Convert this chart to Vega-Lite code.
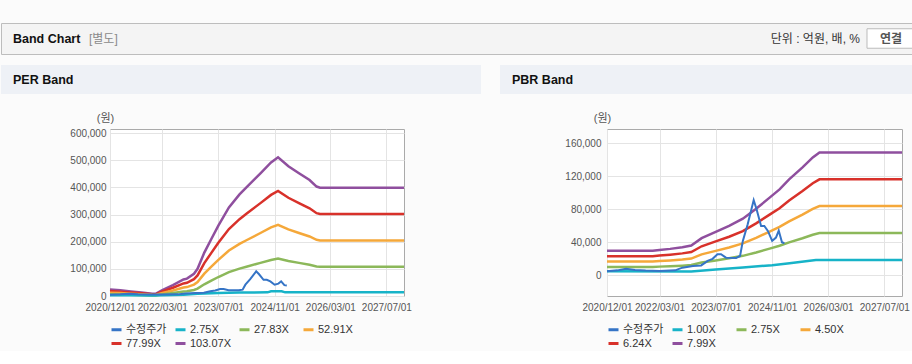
{
  "$schema": "https://vega.github.io/schema/vega-lite/v6.json",
  "background": "#fbfbfb",
  "padding": {"left": 0, "top": 22, "right": 0, "bottom": 0},
  "config": {
    "font": "Liberation Sans, Noto Sans CJK KR",
    "axis": {"labelFont": "Liberation Sans, Noto Sans CJK KR", "labelFontSize": 10, "labelColor": "#555555", "domain": false, "ticks": false, "gridColor": "#e4e4e4", "gridWidth": 1},
    "legend": {"labelFont": "Liberation Sans, Noto Sans CJK KR"}
  },
  "datasets": {
    "per": [
      {"s": "103.07X", "d": "2020-12-01", "v": 24000},
      {"s": "103.07X", "d": "2021-03-01", "v": 21000},
      {"s": "103.07X", "d": "2021-06-01", "v": 17000},
      {"s": "103.07X", "d": "2021-09-01", "v": 13000},
      {"s": "103.07X", "d": "2021-12-01", "v": 8500},
      {"s": "103.07X", "d": "2022-01-01", "v": 8000},
      {"s": "103.07X", "d": "2022-03-01", "v": 22000},
      {"s": "103.07X", "d": "2022-06-01", "v": 40000},
      {"s": "103.07X", "d": "2022-09-01", "v": 61000},
      {"s": "103.07X", "d": "2022-10-01", "v": 64000},
      {"s": "103.07X", "d": "2022-12-01", "v": 82000},
      {"s": "103.07X", "d": "2023-01-01", "v": 100000},
      {"s": "103.07X", "d": "2023-03-01", "v": 160000},
      {"s": "103.07X", "d": "2023-05-01", "v": 210000},
      {"s": "103.07X", "d": "2023-07-01", "v": 259000},
      {"s": "103.07X", "d": "2023-10-01", "v": 326000},
      {"s": "103.07X", "d": "2024-01-01", "v": 374000},
      {"s": "103.07X", "d": "2024-03-01", "v": 400000},
      {"s": "103.07X", "d": "2024-07-01", "v": 452000},
      {"s": "103.07X", "d": "2024-10-01", "v": 492000},
      {"s": "103.07X", "d": "2024-12-01", "v": 511000},
      {"s": "103.07X", "d": "2025-03-01", "v": 478000},
      {"s": "103.07X", "d": "2025-06-01", "v": 452000},
      {"s": "103.07X", "d": "2025-09-01", "v": 427000},
      {"s": "103.07X", "d": "2025-11-01", "v": 403000},
      {"s": "103.07X", "d": "2025-12-01", "v": 399000},
      {"s": "103.07X", "d": "2027-12-01", "v": 399000},
      {"s": "77.99X", "d": "2020-12-01", "v": 18160},
      {"s": "77.99X", "d": "2021-03-01", "v": 15890},
      {"s": "77.99X", "d": "2021-06-01", "v": 12863},
      {"s": "77.99X", "d": "2021-09-01", "v": 9837},
      {"s": "77.99X", "d": "2021-12-01", "v": 6432},
      {"s": "77.99X", "d": "2022-01-01", "v": 6053},
      {"s": "77.99X", "d": "2022-03-01", "v": 16647},
      {"s": "77.99X", "d": "2022-06-01", "v": 30267},
      {"s": "77.99X", "d": "2022-09-01", "v": 46157},
      {"s": "77.99X", "d": "2022-10-01", "v": 48427},
      {"s": "77.99X", "d": "2022-12-01", "v": 62047},
      {"s": "77.99X", "d": "2023-01-01", "v": 75667},
      {"s": "77.99X", "d": "2023-03-01", "v": 121067},
      {"s": "77.99X", "d": "2023-05-01", "v": 158901},
      {"s": "77.99X", "d": "2023-07-01", "v": 195978},
      {"s": "77.99X", "d": "2023-10-01", "v": 246674},
      {"s": "77.99X", "d": "2024-01-01", "v": 282995},
      {"s": "77.99X", "d": "2024-03-01", "v": 302668},
      {"s": "77.99X", "d": "2024-07-01", "v": 342015},
      {"s": "77.99X", "d": "2024-10-01", "v": 372282},
      {"s": "77.99X", "d": "2024-12-01", "v": 386658},
      {"s": "77.99X", "d": "2025-03-01", "v": 361688},
      {"s": "77.99X", "d": "2025-06-01", "v": 342015},
      {"s": "77.99X", "d": "2025-09-01", "v": 323098},
      {"s": "77.99X", "d": "2025-11-01", "v": 304938},
      {"s": "77.99X", "d": "2025-12-01", "v": 301911},
      {"s": "77.99X", "d": "2027-12-01", "v": 301911},
      {"s": "52.91X", "d": "2020-12-01", "v": 12320},
      {"s": "52.91X", "d": "2021-03-01", "v": 10780},
      {"s": "52.91X", "d": "2021-06-01", "v": 8727},
      {"s": "52.91X", "d": "2021-09-01", "v": 6673},
      {"s": "52.91X", "d": "2021-12-01", "v": 4363},
      {"s": "52.91X", "d": "2022-01-01", "v": 4107},
      {"s": "52.91X", "d": "2022-03-01", "v": 11293},
      {"s": "52.91X", "d": "2022-06-01", "v": 20534},
      {"s": "52.91X", "d": "2022-09-01", "v": 31314},
      {"s": "52.91X", "d": "2022-10-01", "v": 32854},
      {"s": "52.91X", "d": "2022-12-01", "v": 42094},
      {"s": "52.91X", "d": "2023-01-01", "v": 51334},
      {"s": "52.91X", "d": "2023-03-01", "v": 82134},
      {"s": "52.91X", "d": "2023-05-01", "v": 107801},
      {"s": "52.91X", "d": "2023-07-01", "v": 132955},
      {"s": "52.91X", "d": "2023-10-01", "v": 167349},
      {"s": "52.91X", "d": "2024-01-01", "v": 191989},
      {"s": "52.91X", "d": "2024-03-01", "v": 205336},
      {"s": "52.91X", "d": "2024-07-01", "v": 232030},
      {"s": "52.91X", "d": "2024-10-01", "v": 252563},
      {"s": "52.91X", "d": "2024-12-01", "v": 262317},
      {"s": "52.91X", "d": "2025-03-01", "v": 245377},
      {"s": "52.91X", "d": "2025-06-01", "v": 232030},
      {"s": "52.91X", "d": "2025-09-01", "v": 219196},
      {"s": "52.91X", "d": "2025-11-01", "v": 206876},
      {"s": "52.91X", "d": "2025-12-01", "v": 204823},
      {"s": "52.91X", "d": "2027-12-01", "v": 204823},
      {"s": "27.83X", "d": "2020-12-01", "v": 6480},
      {"s": "27.83X", "d": "2021-03-01", "v": 5670},
      {"s": "27.83X", "d": "2021-06-01", "v": 4590},
      {"s": "27.83X", "d": "2021-09-01", "v": 3510},
      {"s": "27.83X", "d": "2021-12-01", "v": 2295},
      {"s": "27.83X", "d": "2022-01-01", "v": 2160},
      {"s": "27.83X", "d": "2022-03-01", "v": 5940},
      {"s": "27.83X", "d": "2022-06-01", "v": 10800},
      {"s": "27.83X", "d": "2022-09-01", "v": 16471},
      {"s": "27.83X", "d": "2022-10-01", "v": 17281},
      {"s": "27.83X", "d": "2022-12-01", "v": 22141},
      {"s": "27.83X", "d": "2023-01-01", "v": 27001},
      {"s": "27.83X", "d": "2023-03-01", "v": 43202},
      {"s": "27.83X", "d": "2023-05-01", "v": 56702},
      {"s": "27.83X", "d": "2023-07-01", "v": 69933},
      {"s": "27.83X", "d": "2023-10-01", "v": 88023},
      {"s": "27.83X", "d": "2024-01-01", "v": 100984},
      {"s": "27.83X", "d": "2024-03-01", "v": 108004},
      {"s": "27.83X", "d": "2024-07-01", "v": 122045},
      {"s": "27.83X", "d": "2024-10-01", "v": 132845},
      {"s": "27.83X", "d": "2024-12-01", "v": 137975},
      {"s": "27.83X", "d": "2025-03-01", "v": 129065},
      {"s": "27.83X", "d": "2025-06-01", "v": 122045},
      {"s": "27.83X", "d": "2025-09-01", "v": 115294},
      {"s": "27.83X", "d": "2025-11-01", "v": 108814},
      {"s": "27.83X", "d": "2025-12-01", "v": 107734},
      {"s": "27.83X", "d": "2027-12-01", "v": 107734},
      {"s": "2.75X", "d": "2020-12-01", "v": 3000},
      {"s": "2.75X", "d": "2021-06-01", "v": 2500},
      {"s": "2.75X", "d": "2021-12-01", "v": 1500},
      {"s": "2.75X", "d": "2022-03-01", "v": 2500},
      {"s": "2.75X", "d": "2022-09-01", "v": 5000},
      {"s": "2.75X", "d": "2023-01-01", "v": 8000},
      {"s": "2.75X", "d": "2023-07-01", "v": 11500},
      {"s": "2.75X", "d": "2024-01-01", "v": 12500},
      {"s": "2.75X", "d": "2024-09-01", "v": 13500},
      {"s": "2.75X", "d": "2024-10-01", "v": 17500},
      {"s": "2.75X", "d": "2025-01-01", "v": 17500},
      {"s": "2.75X", "d": "2025-02-01", "v": 13500},
      {"s": "2.75X", "d": "2027-12-01", "v": 13500},
      {"s": "수정주가", "d": "2020-12-01", "v": 5000},
      {"s": "수정주가", "d": "2021-03-01", "v": 6000},
      {"s": "수정주가", "d": "2021-05-15", "v": 8000},
      {"s": "수정주가", "d": "2021-08-01", "v": 6500},
      {"s": "수정주가", "d": "2021-11-01", "v": 5700},
      {"s": "수정주가", "d": "2022-03-01", "v": 5300},
      {"s": "수정주가", "d": "2022-07-15", "v": 6000},
      {"s": "수정주가", "d": "2022-09-15", "v": 9300},
      {"s": "수정주가", "d": "2022-12-15", "v": 11300},
      {"s": "수정주가", "d": "2023-02-25", "v": 12000},
      {"s": "수정주가", "d": "2023-04-22", "v": 17400},
      {"s": "수정주가", "d": "2023-06-04", "v": 20000},
      {"s": "수정주가", "d": "2023-07-16", "v": 25500},
      {"s": "수정주가", "d": "2023-08-16", "v": 25500},
      {"s": "수정주가", "d": "2023-09-28", "v": 21400},
      {"s": "수정주가", "d": "2023-12-25", "v": 21000},
      {"s": "수정주가", "d": "2024-01-28", "v": 23400},
      {"s": "수정주가", "d": "2024-02-21", "v": 41600},
      {"s": "수정주가", "d": "2024-04-03", "v": 61800},
      {"s": "수정주가", "d": "2024-05-25", "v": 91000},
      {"s": "수정주가", "d": "2024-06-19", "v": 80000},
      {"s": "수정주가", "d": "2024-07-28", "v": 59800},
      {"s": "수정주가", "d": "2024-08-25", "v": 59800},
      {"s": "수정주가", "d": "2024-09-25", "v": 53700},
      {"s": "수정주가", "d": "2024-11-01", "v": 41600},
      {"s": "수정주가", "d": "2024-12-04", "v": 45700},
      {"s": "수정주가", "d": "2024-12-28", "v": 54000},
      {"s": "수정주가", "d": "2025-01-25", "v": 40000},
      {"s": "수정주가", "d": "2025-02-15", "v": 38800}
    ],
    "pbr": [
      {"s": "7.99X", "d": "2020-12-01", "v": 29600},
      {"s": "7.99X", "d": "2022-01-01", "v": 29600},
      {"s": "7.99X", "d": "2022-03-01", "v": 30600},
      {"s": "7.99X", "d": "2022-06-01", "v": 32000},
      {"s": "7.99X", "d": "2022-09-15", "v": 34000},
      {"s": "7.99X", "d": "2022-12-01", "v": 36000},
      {"s": "7.99X", "d": "2023-03-01", "v": 45000},
      {"s": "7.99X", "d": "2023-07-01", "v": 52500},
      {"s": "7.99X", "d": "2023-10-25", "v": 59800},
      {"s": "7.99X", "d": "2024-02-21", "v": 68500},
      {"s": "7.99X", "d": "2024-06-15", "v": 80500},
      {"s": "7.99X", "d": "2024-10-10", "v": 94000},
      {"s": "7.99X", "d": "2025-01-04", "v": 104000},
      {"s": "7.99X", "d": "2025-03-28", "v": 116000},
      {"s": "7.99X", "d": "2025-07-22", "v": 130500},
      {"s": "7.99X", "d": "2025-10-19", "v": 142600},
      {"s": "7.99X", "d": "2025-12-16", "v": 148700},
      {"s": "7.99X", "d": "2027-12-01", "v": 148700},
      {"s": "6.24X", "d": "2020-12-01", "v": 23117},
      {"s": "6.24X", "d": "2022-01-01", "v": 23117},
      {"s": "6.24X", "d": "2022-03-01", "v": 23898},
      {"s": "6.24X", "d": "2022-06-01", "v": 24991},
      {"s": "6.24X", "d": "2022-09-15", "v": 26553},
      {"s": "6.24X", "d": "2022-12-01", "v": 28115},
      {"s": "6.24X", "d": "2023-03-01", "v": 35144},
      {"s": "6.24X", "d": "2023-07-01", "v": 41001},
      {"s": "6.24X", "d": "2023-10-25", "v": 46703},
      {"s": "6.24X", "d": "2024-02-21", "v": 53497},
      {"s": "6.24X", "d": "2024-06-15", "v": 62869},
      {"s": "6.24X", "d": "2024-10-10", "v": 73412},
      {"s": "6.24X", "d": "2025-01-04", "v": 81222},
      {"s": "6.24X", "d": "2025-03-28", "v": 90594},
      {"s": "6.24X", "d": "2025-07-22", "v": 101918},
      {"s": "6.24X", "d": "2025-10-19", "v": 111368},
      {"s": "6.24X", "d": "2025-12-16", "v": 116132},
      {"s": "6.24X", "d": "2027-12-01", "v": 116132},
      {"s": "4.50X", "d": "2020-12-01", "v": 16671},
      {"s": "4.50X", "d": "2022-01-01", "v": 16671},
      {"s": "4.50X", "d": "2022-03-01", "v": 17234},
      {"s": "4.50X", "d": "2022-06-01", "v": 18022},
      {"s": "4.50X", "d": "2022-09-15", "v": 19149},
      {"s": "4.50X", "d": "2022-12-01", "v": 20275},
      {"s": "4.50X", "d": "2023-03-01", "v": 25344},
      {"s": "4.50X", "d": "2023-07-01", "v": 29568},
      {"s": "4.50X", "d": "2023-10-25", "v": 33679},
      {"s": "4.50X", "d": "2024-02-21", "v": 38579},
      {"s": "4.50X", "d": "2024-06-15", "v": 45338},
      {"s": "4.50X", "d": "2024-10-10", "v": 52941},
      {"s": "4.50X", "d": "2025-01-04", "v": 58573},
      {"s": "4.50X", "d": "2025-03-28", "v": 65331},
      {"s": "4.50X", "d": "2025-07-22", "v": 73498},
      {"s": "4.50X", "d": "2025-10-19", "v": 80312},
      {"s": "4.50X", "d": "2025-12-16", "v": 83748},
      {"s": "4.50X", "d": "2027-12-01", "v": 83748},
      {"s": "2.75X", "d": "2020-12-01", "v": 10188},
      {"s": "2.75X", "d": "2022-01-01", "v": 10188},
      {"s": "2.75X", "d": "2022-03-01", "v": 10532},
      {"s": "2.75X", "d": "2022-06-01", "v": 11014},
      {"s": "2.75X", "d": "2022-09-15", "v": 11702},
      {"s": "2.75X", "d": "2022-12-01", "v": 12390},
      {"s": "2.75X", "d": "2023-03-01", "v": 15488},
      {"s": "2.75X", "d": "2023-07-01", "v": 18069},
      {"s": "2.75X", "d": "2023-10-25", "v": 20582},
      {"s": "2.75X", "d": "2024-02-21", "v": 23576},
      {"s": "2.75X", "d": "2024-06-15", "v": 27706},
      {"s": "2.75X", "d": "2024-10-10", "v": 32353},
      {"s": "2.75X", "d": "2025-01-04", "v": 35795},
      {"s": "2.75X", "d": "2025-03-28", "v": 39925},
      {"s": "2.75X", "d": "2025-07-22", "v": 44915},
      {"s": "2.75X", "d": "2025-10-19", "v": 49080},
      {"s": "2.75X", "d": "2025-12-16", "v": 51180},
      {"s": "2.75X", "d": "2027-12-01", "v": 51180},
      {"s": "1.00X", "d": "2020-12-01", "v": 4800},
      {"s": "1.00X", "d": "2022-12-01", "v": 4500},
      {"s": "1.00X", "d": "2023-07-01", "v": 7000},
      {"s": "1.00X", "d": "2024-02-21", "v": 9600},
      {"s": "1.00X", "d": "2024-11-01", "v": 12300},
      {"s": "1.00X", "d": "2025-04-01", "v": 14500},
      {"s": "1.00X", "d": "2025-11-15", "v": 18500},
      {"s": "1.00X", "d": "2027-12-01", "v": 18500},
      {"s": "수정주가", "d": "2020-12-01", "v": 5000},
      {"s": "수정주가", "d": "2021-03-01", "v": 6000},
      {"s": "수정주가", "d": "2021-05-15", "v": 8000},
      {"s": "수정주가", "d": "2021-08-01", "v": 6500},
      {"s": "수정주가", "d": "2021-11-01", "v": 5700},
      {"s": "수정주가", "d": "2022-03-01", "v": 5300},
      {"s": "수정주가", "d": "2022-07-15", "v": 6000},
      {"s": "수정주가", "d": "2022-09-15", "v": 9300},
      {"s": "수정주가", "d": "2022-12-15", "v": 11300},
      {"s": "수정주가", "d": "2023-02-25", "v": 12000},
      {"s": "수정주가", "d": "2023-04-22", "v": 17400},
      {"s": "수정주가", "d": "2023-06-04", "v": 20000},
      {"s": "수정주가", "d": "2023-07-16", "v": 25500},
      {"s": "수정주가", "d": "2023-08-16", "v": 25500},
      {"s": "수정주가", "d": "2023-09-28", "v": 21400},
      {"s": "수정주가", "d": "2023-12-25", "v": 21000},
      {"s": "수정주가", "d": "2024-01-28", "v": 23400},
      {"s": "수정주가", "d": "2024-02-21", "v": 41600},
      {"s": "수정주가", "d": "2024-04-03", "v": 61800},
      {"s": "수정주가", "d": "2024-05-25", "v": 91000},
      {"s": "수정주가", "d": "2024-06-19", "v": 80000},
      {"s": "수정주가", "d": "2024-07-28", "v": 59800},
      {"s": "수정주가", "d": "2024-08-25", "v": 59800},
      {"s": "수정주가", "d": "2024-09-25", "v": 53700},
      {"s": "수정주가", "d": "2024-11-01", "v": 41600},
      {"s": "수정주가", "d": "2024-12-04", "v": 45700},
      {"s": "수정주가", "d": "2024-12-28", "v": 54000},
      {"s": "수정주가", "d": "2025-01-25", "v": 40000},
      {"s": "수정주가", "d": "2025-02-15", "v": 38800}
    ]
  },
  "bounds": "flush",
  "spacing": 11,
  "resolve": {"scale": {"color": "independent"}, "legend": {"color": "independent"}},
  "vconcat": [
    {
      "width": 912,
      "height": 31,
      "view": {"fill": "#f4f4f4", "stroke": "#bdbdbd"},
      "data": {"values": [{}]},
      "layer": [
        {"mark": {"type": "text", "text": "Band Chart", "align": "left", "baseline": "middle", "dx": 12, "fontSize": 12.5, "fontWeight": "bold", "color": "#111111"}, "encoding": {"x": {"value": 0}}},
        {"mark": {"type": "text", "text": "[별도]", "align": "left", "baseline": "middle", "dx": 88, "fontSize": 12, "color": "#8a8a8a"}, "encoding": {"x": {"value": 0}}},
        {"mark": {"type": "text", "text": "단위 : 억원, 배, %", "align": "right", "baseline": "middle", "dx": -53, "fontSize": 12, "color": "#333333"}, "encoding": {"x": {"value": "width"}}},
        {"mark": {"type": "point", "shape": "M-1,-0.406H1V0.406H-1Z", "size": 2304, "filled": true, "fill": "#ffffff", "stroke": "#bbbbbb", "strokeWidth": 1, "opacity": 1, "xOffset": -22}, "encoding": {"x": {"value": "width"}}},
        {"mark": {"type": "text", "text": "연결", "align": "center", "baseline": "middle", "dx": -22, "fontSize": 12, "fontWeight": "bold", "color": "#555555"}, "encoding": {"x": {"value": "width"}}}
      ]
    },
    {
      "bounds": "full",
      "spacing": 19,
      "resolve": {"scale": {"color": "independent"}, "legend": {"color": "independent"}},
      "hconcat": [
        {
          "bounds": "flush",
          "spacing": 35,
          "resolve": {"scale": {"color": "independent"}, "legend": {"color": "independent"}},
          "vconcat": [
            {
              "width": 480,
              "height": 29,
              "view": {"fill": "#eef1f6", "stroke": null},
              "data": {"values": [{}]},
              "mark": {"type": "text", "text": "PER Band", "align": "left", "baseline": "middle", "dx": 12, "fontSize": 12.5, "fontWeight": "bold", "color": "#111111"},
              "encoding": {"x": {"value": 0}}
            },
            {
              "bounds": "flush",
              "spacing": 0,
              "resolve": {"scale": {"color": "independent"}, "legend": {"color": "independent"}},
              "hconcat": [
                {"width": 109, "height": 167, "data": {"values": []}, "mark": "point", "view": {"stroke": null}},
                {
                  "width": 294,
                  "height": 167,
                  "view": {"fill": "white", "stroke": "#aaaaaa"},
                  "data": {"name": "per"},
                  "encoding": {
                    "x": {"field": "d", "type": "temporal",
                      "scale": {"type": "utc", "domain": [{"year": 2020, "month": 12, "date": 1, "utc": true}, {"year": 2027, "month": 12, "date": 1, "utc": true}]},
                      "axis": {"title": null, "format": "%Y/%m/%d", "labelPadding": 6, "labelOverlap": false, "labelFlush": false,
                        "values": [{"year": 2020, "month": 12, "date": 1, "utc": true}, {"year": 2022, "month": 3, "date": 1, "utc": true}, {"year": 2023, "month": 7, "date": 1, "utc": true}, {"year": 2024, "month": 11, "date": 1, "utc": true}, {"year": 2026, "month": 3, "date": 1, "utc": true}, {"year": 2027, "month": 7, "date": 1, "utc": true}]}},
                    "y": {"field": "v", "type": "quantitative",
                      "scale": {"domain": [0, 615000], "nice": false, "zero": false},
                      "axis": {"values": [0, 100000, 200000, 300000, 400000, 500000, 600000], "format": ",d", "labelPadding": 4,
                        "title": "(원)", "titleAngle": 0, "titleAlign": "center", "titleBaseline": "middle", "titleX": -5, "titleY": -11, "titleFontWeight": "normal", "titleFontSize": 11, "titleColor": "#555555"}},
                    "color": {"field": "s", "type": "nominal",
                      "scale": {"domain": ["수정주가", "2.75X", "27.83X", "52.91X", "77.99X", "103.07X"], "range": ["#3574c6", "#17b3c8", "#8cb85a", "#f5a83a", "#d8312a", "#8f4f9e"]},
                      "legend": {"title": null, "orient": "bottom", "columns": 4, "symbolType": "stroke", "symbolSize": 100, "symbolStrokeWidth": 3, "labelFontSize": 11, "labelColor": "#333333", "columnPadding": 2, "rowPadding": 1, "gridAlign": "all", "offset": 11, "labelOffset": 3}}
                  },
                  "layer": [
                    {"transform": [{"filter": "datum.s != '수정주가'"}], "mark": {"type": "line", "strokeWidth": 2.5}},
                    {"transform": [{"filter": "datum.s == '수정주가'"}], "mark": {"type": "line", "strokeWidth": 2}}
                  ]
                }
              ]
            }
          ]
        },
        {
          "bounds": "flush",
          "spacing": 35,
          "resolve": {"scale": {"color": "independent"}, "legend": {"color": "independent"}},
          "vconcat": [
            {
              "width": 413,
              "height": 29,
              "view": {"fill": "#eef1f6", "stroke": null},
              "data": {"values": [{}]},
              "mark": {"type": "text", "text": "PBR Band", "align": "left", "baseline": "middle", "dx": 12, "fontSize": 12.5, "fontWeight": "bold", "color": "#111111"},
              "encoding": {"x": {"value": 0}}
            },
            {
              "bounds": "flush",
              "spacing": 0,
              "resolve": {"scale": {"color": "independent"}, "legend": {"color": "independent"}},
              "hconcat": [
                {"width": 107, "height": 167, "data": {"values": []}, "mark": "point", "view": {"stroke": null}},
                {
                  "width": 295,
                  "height": 167,
                  "view": {"fill": "white", "stroke": "#aaaaaa"},
                  "data": {"name": "pbr"},
                  "encoding": {
                    "x": {"field": "d", "type": "temporal",
                      "scale": {"type": "utc", "domain": [{"year": 2020, "month": 12, "date": 1, "utc": true}, {"year": 2027, "month": 12, "date": 1, "utc": true}]},
                      "axis": {"title": null, "format": "%Y/%m/%d", "labelPadding": 6, "labelOverlap": false, "labelFlush": false,
                        "values": [{"year": 2020, "month": 12, "date": 1, "utc": true}, {"year": 2022, "month": 3, "date": 1, "utc": true}, {"year": 2023, "month": 7, "date": 1, "utc": true}, {"year": 2024, "month": 11, "date": 1, "utc": true}, {"year": 2026, "month": 3, "date": 1, "utc": true}, {"year": 2027, "month": 7, "date": 1, "utc": true}]}},
                    "y": {"field": "v", "type": "quantitative",
                      "scale": {"domain": [-25000, 177000], "nice": false, "zero": false},
                      "axis": {"values": [0, 40000, 80000, 120000, 160000], "format": ",d", "labelPadding": 6,
                        "title": "(원)", "titleAngle": 0, "titleAlign": "center", "titleBaseline": "middle", "titleX": -5, "titleY": -11, "titleFontWeight": "normal", "titleFontSize": 11, "titleColor": "#555555"}},
                    "color": {"field": "s", "type": "nominal",
                      "scale": {"domain": ["수정주가", "1.00X", "2.75X", "4.50X", "6.24X", "7.99X"], "range": ["#3574c6", "#17b3c8", "#8cb85a", "#f5a83a", "#d8312a", "#8f4f9e"]},
                      "legend": {"title": null, "orient": "bottom", "columns": 4, "symbolType": "stroke", "symbolSize": 100, "symbolStrokeWidth": 3, "labelFontSize": 11, "labelColor": "#333333", "columnPadding": 2, "rowPadding": 1, "gridAlign": "all", "offset": 11, "labelOffset": 3}}
                  },
                  "layer": [
                    {"transform": [{"filter": "datum.s != '수정주가'"}], "mark": {"type": "line", "strokeWidth": 2.5}},
                    {"transform": [{"filter": "datum.s == '수정주가'"}], "mark": {"type": "line", "strokeWidth": 2}}
                  ]
                }
              ]
            }
          ]
        }
      ]
    }
  ]
}
